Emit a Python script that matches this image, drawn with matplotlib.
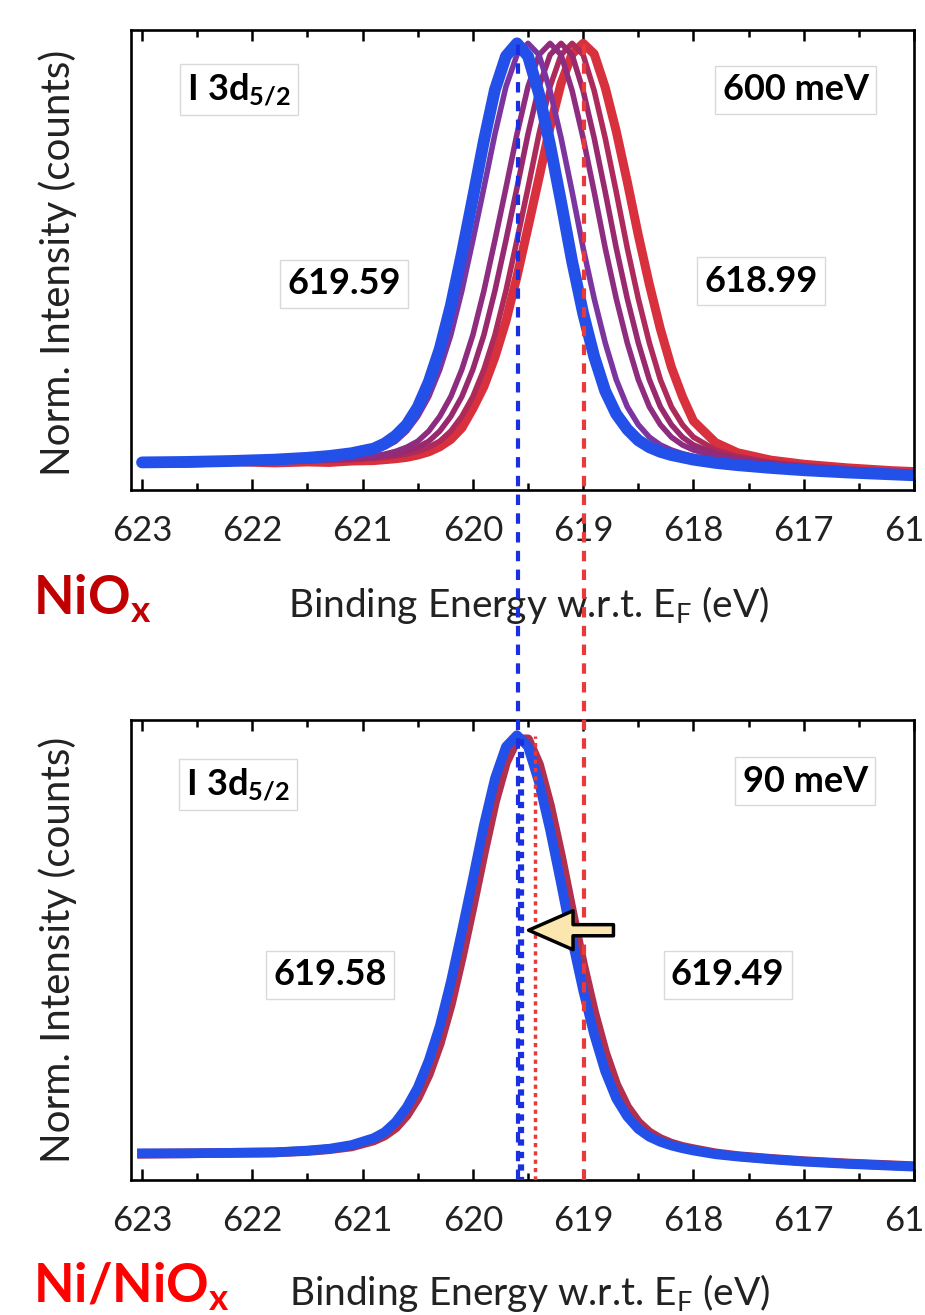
import matplotlib
matplotlib.use('Agg')
import matplotlib.pyplot as plt
from matplotlib.ticker import MultipleLocator

plt.rcParams['font.family'] = ['Lato', 'DejaVu Sans']
plt.rcParams['mathtext.fontset'] = 'custom'
plt.rcParams['mathtext.rm'] = 'Lato'
plt.rcParams['mathtext.it'] = 'Lato:italic'
plt.rcParams['mathtext.bf'] = 'Lato:bold'

# binding energy grid (eV)
energy = [623.0, 622.6, 622.2, 621.8, 621.5, 621.3, 621.1, 620.9, 620.8, 620.7,
          620.6, 620.5, 620.4, 620.3, 620.2, 620.1, 620.0, 619.9, 619.8, 619.7,
          619.6, 619.5, 619.4, 619.3, 619.2, 619.1, 619.0, 618.9, 618.8, 618.7,
          618.6, 618.5, 618.4, 618.3, 618.2, 618.1, 618.0, 617.8, 617.6, 617.3,
          617.0, 616.6, 616.2, 615.9]

# NiOx panel: I 3d5/2 spectra, red (618.99) -> blue (619.59)
nio_red = [0.060, 0.058, 0.062, 0.059, 0.061, 0.060, 0.063, 0.064, 0.066, 0.068,
           0.071, 0.076, 0.083, 0.094, 0.110, 0.135, 0.177, 0.225, 0.289, 0.367,
           0.464, 0.571, 0.679, 0.789, 0.884, 0.948, 0.971, 0.948, 0.875, 0.780,
           0.670, 0.554, 0.447, 0.350, 0.267, 0.203, 0.150, 0.103, 0.081, 0.065,
           0.056, 0.048, 0.042, 0.039]
nio_p4 = [0.060, 0.060, 0.061, 0.062, 0.063, 0.065, 0.066, 0.069, 0.071, 0.074,
          0.078, 0.084, 0.093, 0.106, 0.128, 0.160, 0.203, 0.262, 0.337, 0.433,
          0.543, 0.657, 0.774, 0.877, 0.946, 0.971, 0.946, 0.868, 0.765, 0.648,
          0.526, 0.416, 0.320, 0.240, 0.181, 0.142, 0.115, 0.087, 0.073, 0.060,
          0.053, 0.046, 0.040, 0.037]
nio_p3 = [0.060, 0.060, 0.061, 0.062, 0.064, 0.065, 0.067, 0.071, 0.074, 0.078,
          0.084, 0.093, 0.106, 0.128, 0.160, 0.203, 0.262, 0.337, 0.433, 0.543,
          0.657, 0.774, 0.877, 0.946, 0.971, 0.946, 0.868, 0.765, 0.648, 0.526,
          0.416, 0.320, 0.240, 0.181, 0.142, 0.115, 0.098, 0.079, 0.068, 0.058,
          0.051, 0.044, 0.039, 0.036]
nio_p2 = [0.060, 0.061, 0.061, 0.063, 0.065, 0.066, 0.069, 0.074, 0.078, 0.084,
          0.093, 0.106, 0.128, 0.160, 0.203, 0.262, 0.337, 0.433, 0.543, 0.657,
          0.774, 0.877, 0.946, 0.971, 0.946, 0.868, 0.765, 0.648, 0.526, 0.416,
          0.320, 0.240, 0.181, 0.142, 0.115, 0.098, 0.087, 0.073, 0.064, 0.055,
          0.049, 0.043, 0.038, 0.035]
nio_p1 = [0.060, 0.061, 0.062, 0.064, 0.066, 0.069, 0.074, 0.084, 0.093, 0.106,
          0.128, 0.160, 0.203, 0.262, 0.337, 0.433, 0.543, 0.657, 0.774, 0.877,
          0.946, 0.971, 0.946, 0.868, 0.765, 0.648, 0.526, 0.416, 0.320, 0.240,
          0.181, 0.142, 0.115, 0.098, 0.087, 0.079, 0.073, 0.064, 0.057, 0.051,
          0.046, 0.040, 0.036, 0.033]
nio_blue = [0.060, 0.061, 0.063, 0.066, 0.070, 0.074, 0.080, 0.090, 0.101, 0.118,
            0.142, 0.180, 0.235, 0.307, 0.401, 0.514, 0.635, 0.759, 0.870, 0.943,
            0.971, 0.943, 0.861, 0.750, 0.626, 0.497, 0.384, 0.290, 0.215, 0.165,
            0.132, 0.108, 0.093, 0.083, 0.076, 0.071, 0.066, 0.059, 0.054, 0.048,
            0.043, 0.038, 0.034, 0.031]
nio_colors = ['#d8303c', '#ad2a5a', '#99296e', '#8e2d80', '#7b35a0', '#2350e8']
nio_widths = [6.5, 4.0, 4.0, 4.0, 4.0, 8.5]

# Ni/NiOx panel
ni_red = [0.057, 0.058, 0.059, 0.060, 0.063, 0.067, 0.073, 0.086, 0.097, 0.114,
          0.141, 0.179, 0.230, 0.297, 0.382, 0.485, 0.597, 0.713, 0.822, 0.908,
          0.958, 0.958, 0.903, 0.813, 0.703, 0.583, 0.467, 0.364, 0.276, 0.207,
          0.158, 0.125, 0.103, 0.089, 0.079, 0.072, 0.067, 0.058, 0.052, 0.046,
          0.041, 0.036, 0.032, 0.029]
ni_blue = [0.058, 0.058, 0.059, 0.060, 0.064, 0.068, 0.076, 0.091, 0.104, 0.126,
           0.158, 0.201, 0.260, 0.335, 0.431, 0.541, 0.655, 0.772, 0.873, 0.942,
           0.967, 0.942, 0.864, 0.761, 0.644, 0.522, 0.412, 0.316, 0.236, 0.177,
           0.138, 0.111, 0.094, 0.083, 0.075, 0.069, 0.064, 0.056, 0.051, 0.045,
           0.040, 0.035, 0.031, 0.028]

# peak positions marked with dashed lines
nio_peaks = [619.59, 618.99]
ni_peaks = [619.565, 619.44]
tick_vals = [623, 622, 621, 620, 619, 618, 617, 616]

fig = plt.figure(figsize=(9.25, 13.15), dpi=100)
ax1 = fig.add_axes([131 / 925, 1 - 490 / 1315, 783 / 925, 460 / 1315])
ax2 = fig.add_axes([131 / 925, 1 - 1180 / 1315, 783 / 925, 460 / 1315])

for ax in (ax1, ax2):
    ax.set_facecolor('none')
    ax.set_xlim(623.1, 616.03)
    ax.set_ylim(0, 1)
    ax.set_xticks(tick_vals)
    ax.xaxis.set_minor_locator(MultipleLocator(0.5))
    ax.set_yticks([])
    ax.tick_params(axis='x', which='both', direction='in', top=True,
                   width=1.8, labelsize=25, pad=18, labelcolor='#222222')
    ax.tick_params(axis='x', which='major', length=8)
    ax.tick_params(axis='x', which='minor', length=5)
    for sp in ax.spines.values():
        sp.set_linewidth(1.9)

# top panel curves
for ys, c, lw in zip([nio_red, nio_p4, nio_p3, nio_p2, nio_p1, nio_blue],
                     nio_colors, nio_widths):
    ax1.plot(energy, ys, color=c, lw=lw, solid_joinstyle='round',
             solid_capstyle='round')

# bottom panel curves (red almost hidden under blue)
ax2.plot(energy, ni_red, color='#b0304e', lw=7.0, solid_joinstyle='round')
ax2.plot(energy, ni_blue, color='#2350e8', lw=7.0, solid_joinstyle='round')

box = dict(boxstyle='square,pad=0.2', fc='white', ec='#d9d9d9', lw=1.0)
txt = dict(fontsize=26, fontweight='bold', ha='center', va='center', bbox=box)
ax1.text(0.138, 0.870, r'$\mathbf{I\ 3d_{5/2}}$', transform=ax1.transAxes, **txt)
ax1.text(0.849, 0.870, '600 meV', transform=ax1.transAxes, **txt)
ax1.text(0.272, 0.448, '619.59', transform=ax1.transAxes, **txt)
ax1.text(0.805, 0.454, '618.99', transform=ax1.transAxes, **txt)
ax2.text(0.137, 0.859, r'$\mathbf{I\ 3d_{5/2}}$', transform=ax2.transAxes, **txt)
ax2.text(0.861, 0.867, '90 meV', transform=ax2.transAxes, **txt)
ax2.text(0.254, 0.446, '619.58', transform=ax2.transAxes, **txt)
ax2.text(0.762, 0.446, '619.49', transform=ax2.transAxes, **txt)

# axis labels (put in ax2 so the dashed lines sit on top of them)
xlab = r'Binding Energy w.r.t. $\mathrm{E_F}$ (eV)'
ax2.text(0.571, 1 - 605 / 1315, xlab, transform=fig.transFigure, fontsize=28,
         ha='center', va='center', color='#222222', zorder=1)
ax2.text(0.573, 1 - 1293 / 1315, xlab, transform=fig.transFigure, fontsize=28,
         ha='center', va='center', color='#222222', zorder=1)
for yc in (263, 950):
    fig.text(58 / 925, 1 - yc / 1315, 'Norm. Intensity (counts)', rotation=90,
             fontsize=29, ha='center', va='center', color='#222222')

fig.text(33 / 925, 1 - 615 / 1315, r'$\mathbf{NiO_x}$', fontsize=38,
         color='#c00000', ha='left', va='baseline')
fig.text(33 / 925, 1 - 1303 / 1315, r'$\mathbf{Ni/NiO_x}$', fontsize=38,
         color='#ff0000', ha='left', va='baseline')

# dashed lines running from the top peaks down through both panels
ytop = (1180 - 40) / 460
ax2.axvline(nio_peaks[0], ymin=0, ymax=ytop, color='#1a2fe0', lw=3.0,
            ls=(0, (2.5, 2)), clip_on=False, zorder=6)
ax2.axvline(nio_peaks[1], ymin=0, ymax=ytop, color='#e83a3a', lw=3.0,
            ls=(0, (2.5, 2)), clip_on=False, zorder=6)
ax2.axvline(ni_peaks[0], ymin=0, ymax=0.965, color='#1a2fe0', lw=4.5,
            ls=(0.5, (1, 1)), zorder=6)
ax2.axvline(ni_peaks[1], ymin=0, ymax=0.965, color='#e83a3a', lw=2.5,
            ls=(0, (1.2, 1.2)), zorder=6)

# block arrow pointing at the shifted peak
ax2.annotate('', xy=(619.52, 0.543), xytext=(618.70, 0.543),
             arrowprops=dict(arrowstyle='simple,head_length=3.2,head_width=2.8,tail_width=0.8',
                             mutation_scale=10, fc='#fbe6b0', ec='black', lw=2.5),
             zorder=7)

fig.savefig('out.png', dpi=100, facecolor='white')
